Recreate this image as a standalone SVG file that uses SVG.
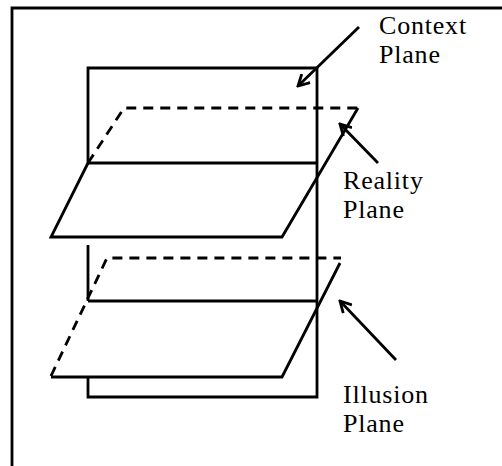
<svg xmlns="http://www.w3.org/2000/svg" width="502" height="466" viewBox="0 0 502 466">
<defs>
<style>
.ln{stroke:#000;stroke-width:2.8;fill:none;stroke-linecap:butt}
.ds{stroke:#000;stroke-width:2.8;fill:none;stroke-dasharray:10 7}
.lbl{font-family:"Liberation Serif","Times New Roman",serif;font-size:26px;letter-spacing:0.8px;fill:#000}
</style>
<marker id="ah" viewBox="0 0 14 14" refX="12" refY="7" markerWidth="14" markerHeight="14" markerUnits="userSpaceOnUse" orient="auto">
<polyline points="1,1 12,7 1,13" fill="none" stroke="#000" stroke-width="2.8"/>
</marker>
</defs>
<rect width="502" height="466" fill="#fff"/>
<g id="frame">
<polyline class="ln" points="12,466 12,8 502,8" stroke-width="3"/>
</g>
<g id="context-plane">
<polyline class="ln" points="88,163 88,68 317,68 317,397 88,397 88,377"/>
<line class="ln" x1="88" y1="245" x2="88" y2="301"/>
</g>
<g id="reality-plane">
<polyline class="ds" points="88,163 124,108 358,108"/>
<line class="ln" x1="88" y1="163" x2="317" y2="163"/>
<polyline class="ln" points="88,163 51,237 282,237 358,108"/>
</g>
<g id="illusion-plane">
<polyline class="ds" points="51,376 107,258 341,258"/>
<line class="ln" x1="88" y1="301" x2="317" y2="301"/>
<polyline class="ln" points="51,377 282,377 340,263"/>
</g>
<g id="connectors">
<line class="ln" x1="359" y1="27" x2="298" y2="86" marker-end="url(#ah)"/>
<line class="ln" x1="378" y1="163" x2="340" y2="124" marker-end="url(#ah)"/>
<line class="ln" x1="396" y1="360" x2="340" y2="301" marker-end="url(#ah)"/>
</g>
<g id="labels">
<text class="lbl" x="379" y="34">Context</text>
<text class="lbl" x="379" y="63">Plane</text>
<text class="lbl" x="343" y="189">Reality</text>
<text class="lbl" x="343" y="218">Plane</text>
<text class="lbl" x="343" y="403">Illusion</text>
<text class="lbl" x="343" y="432">Plane</text>
</g>
</svg>
